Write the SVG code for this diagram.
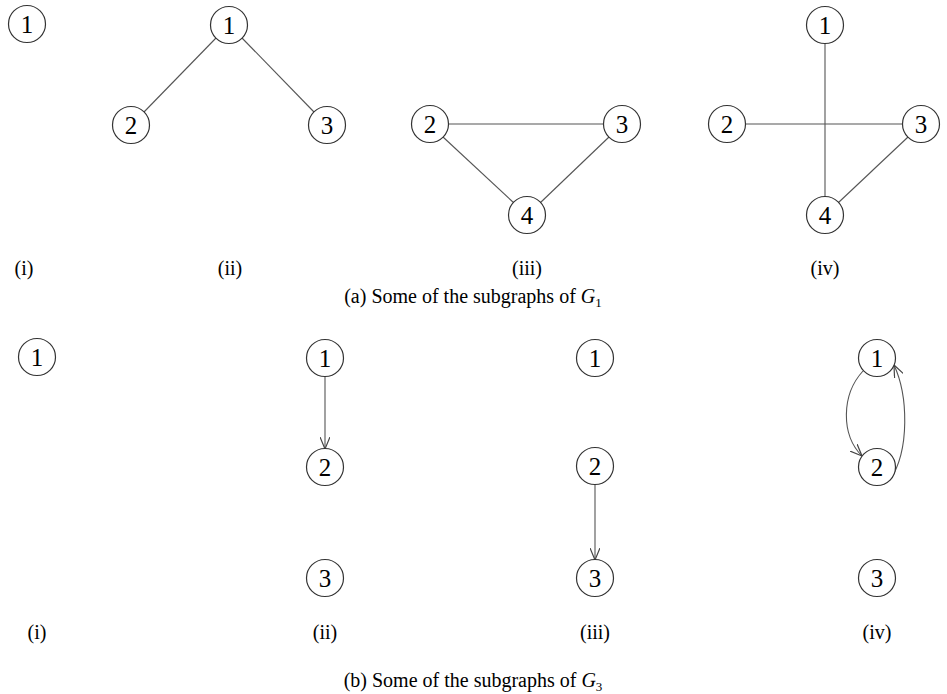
<svg xmlns="http://www.w3.org/2000/svg" width="947" height="694" viewBox="0 0 947 694">
<style>
.n circle{fill:#fff;stroke:#333;stroke-width:1.2}
.n text{font-family:"Liberation Serif","Times New Roman",serif;font-size:25px;fill:#000;text-anchor:middle}
.e line,.e path{stroke:#555;stroke-width:1.1;fill:none}
.lbl{font-family:"Liberation Serif",serif;font-size:20px;fill:#000;text-anchor:middle}
.cap{font-family:"Liberation Serif",serif;font-size:20px;fill:#000;text-anchor:middle}
</style>
<defs>
<marker id="arr" viewBox="0 0 12 10" refX="12" refY="5" markerWidth="12" markerHeight="10" markerUnits="userSpaceOnUse" orient="auto">
<path d="M0,0 L12,5 L0,10" fill="none" stroke="#444" stroke-width="1.2"/>
</marker>
</defs>
<rect width="947" height="694" fill="#fff"/>
<g id="connectors" class="e">
<line x1="216" y1="38" x2="144" y2="112"/>
<line x1="242" y1="38" x2="314" y2="112"/>
<line x1="448" y1="124" x2="604" y2="124"/>
<line x1="443" y1="137" x2="514" y2="203"/>
<line x1="609" y1="137" x2="540" y2="203"/>
<line x1="825" y1="43" x2="825" y2="197"/>
<line x1="745" y1="124" x2="903" y2="124"/>
<line x1="908" y1="137" x2="838" y2="203"/>
<line x1="325" y1="376" x2="325" y2="449" marker-end="url(#arr)"/>
<line x1="595" y1="484" x2="595" y2="560" marker-end="url(#arr)"/>
<path d="M863,371 C841,395 841,435 862,456" marker-end="url(#arr)"/>
<path d="M890,480 C910,450 908,395 894,365" marker-end="url(#arr)"/>
</g>
<g id="a-i-1" class="n"><circle cx="27" cy="24" r="18.5"/><text x="27" y="33">1</text></g>
<g id="a-ii-1" class="n"><circle cx="229" cy="25" r="18.5"/><text x="229" y="34">1</text></g>
<g id="a-ii-2" class="n"><circle cx="131" cy="125" r="18.5"/><text x="131" y="134">2</text></g>
<g id="a-ii-3" class="n"><circle cx="327" cy="125" r="18.5"/><text x="327" y="134">3</text></g>
<g id="a-iii-2" class="n"><circle cx="430" cy="124" r="18.5"/><text x="430" y="133">2</text></g>
<g id="a-iii-3" class="n"><circle cx="622" cy="124" r="18.5"/><text x="622" y="133">3</text></g>
<g id="a-iii-4" class="n"><circle cx="527" cy="215" r="18.5"/><text x="527" y="224">4</text></g>
<g id="a-iv-1" class="n"><circle cx="825" cy="25" r="18.5"/><text x="825" y="34">1</text></g>
<g id="a-iv-2" class="n"><circle cx="727" cy="124" r="18.5"/><text x="727" y="133">2</text></g>
<g id="a-iv-3" class="n"><circle cx="921" cy="124" r="18.5"/><text x="921" y="133">3</text></g>
<g id="a-iv-4" class="n"><circle cx="825" cy="215" r="18.5"/><text x="825" y="224">4</text></g>
<g id="b-i-1" class="n"><circle cx="37" cy="357" r="18.5"/><text x="37" y="366">1</text></g>
<g id="b-ii-1" class="n"><circle cx="325" cy="358" r="18.5"/><text x="325" y="367">1</text></g>
<g id="b-ii-2" class="n"><circle cx="325" cy="467" r="18.5"/><text x="325" y="476">2</text></g>
<g id="b-ii-3" class="n"><circle cx="325" cy="578" r="18.5"/><text x="325" y="587">3</text></g>
<g id="b-iii-1" class="n"><circle cx="595" cy="358" r="18.5"/><text x="595" y="367">1</text></g>
<g id="b-iii-2" class="n"><circle cx="595" cy="466" r="18.5"/><text x="595" y="475">2</text></g>
<g id="b-iii-3" class="n"><circle cx="595" cy="578" r="18.5"/><text x="595" y="587">3</text></g>
<g id="b-iv-1" class="n"><circle cx="877" cy="358" r="18.5"/><text x="877" y="367">1</text></g>
<g id="b-iv-2" class="n"><circle cx="877" cy="467" r="18.5"/><text x="877" y="476">2</text></g>
<g id="b-iv-3" class="n"><circle cx="877" cy="578" r="18.5"/><text x="877" y="587">3</text></g>
<g id="labels">
<text class="lbl" x="24" y="275">(i)</text>
<text class="lbl" x="230" y="275">(ii)</text>
<text class="lbl" x="527" y="275">(iii)</text>
<text class="lbl" x="825" y="275">(iv)</text>
<text class="cap" x="473" y="303">(a) Some of the subgraphs of <tspan font-style="italic">G</tspan><tspan font-size="13" dy="4">1</tspan></text>
<text class="lbl" x="37" y="639">(i)</text>
<text class="lbl" x="325" y="639">(ii)</text>
<text class="lbl" x="595" y="639">(iii)</text>
<text class="lbl" x="877" y="639">(iv)</text>
<text class="cap" x="473" y="687">(b) Some of the subgraphs of <tspan font-style="italic">G</tspan><tspan font-size="13" dy="4">3</tspan></text>
</g>
</svg>
